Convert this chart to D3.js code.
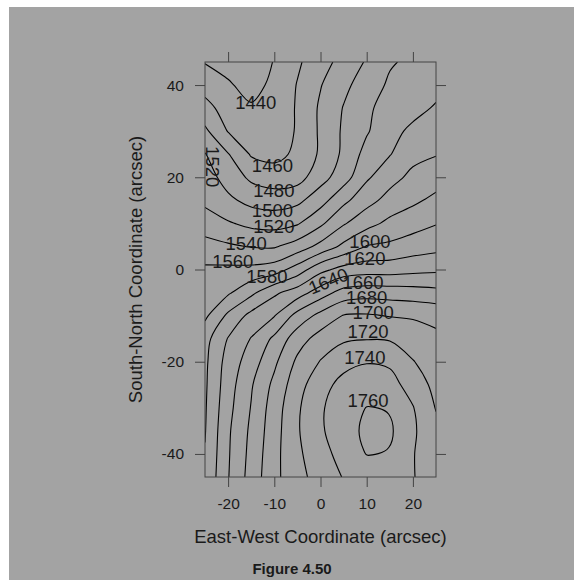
<!DOCTYPE html>
<html>
<head>
<meta charset="utf-8">
<script src="https://cdn.jsdelivr.net/npm/d3@7"></script>
<style>
  body { margin: 0; background: #fff; }
  svg text { font-family: "Liberation Sans", Arial, Helvetica, sans-serif; fill: #1a1a1a; }
</style>
</head>
<body>
<svg id="chart" width="574" height="580"></svg>
<script>
// grid of fitted velocities, east-west columns by south-north rows (north at top)
const eastWest = [-25, -20, -15, -10, -5, 0, 5, 10, 15, 20, 25];
const southNorth = [45, 40, 35, 30, 25, 20, 15, 10, 5, 0, -5, -10, -15, -20, -25, -30, -35, -40, -45];
const velocity = [
  [1439, 1434, 1428, 1441, 1457, 1472, 1487, 1502, 1518, 1524, 1528],
  [1452, 1442, 1434, 1444, 1461, 1479, 1495, 1510, 1523, 1529, 1534],
  [1467, 1451, 1442, 1446, 1462, 1483, 1501, 1516, 1529, 1534, 1542],
  [1484, 1459, 1450, 1448, 1462, 1483, 1503, 1518, 1534, 1544, 1551],
  [1501, 1481, 1458, 1454, 1464, 1483, 1504, 1527, 1539, 1554, 1559],
  [1509, 1492, 1476, 1470, 1472, 1492, 1511, 1537, 1553, 1565, 1571],
  [1516, 1504, 1494, 1490, 1495, 1512, 1535, 1553, 1567, 1576, 1585],
  [1529, 1522, 1515, 1513, 1518, 1536, 1558, 1573, 1585, 1592, 1599],
  [1548, 1543, 1539, 1538, 1549, 1566, 1585, 1601, 1604, 1610, 1614],
  [1563, 1564, 1565, 1570, 1589, 1614, 1627, 1631, 1631, 1634, 1636],
  [1570, 1577, 1595, 1616, 1630, 1650, 1668, 1672, 1671, 1669, 1666],
  [1576, 1604, 1626, 1639, 1667, 1686, 1701, 1702, 1699, 1698, 1695],
  [1593, 1621, 1641, 1664, 1691, 1708, 1717, 1719, 1718, 1710, 1704],
  [1596, 1628, 1650, 1676, 1704, 1721, 1734, 1739, 1737, 1721, 1709],
  [1597, 1631, 1658, 1685, 1712, 1733, 1746, 1750, 1747, 1732, 1714],
  [1598, 1634, 1661, 1690, 1717, 1738, 1749, 1761, 1759, 1741, 1719],
  [1599, 1637, 1664, 1692, 1718, 1737, 1753, 1766, 1765, 1743, 1725],
  [1601, 1638, 1666, 1694, 1716, 1733, 1747, 1761, 1759, 1741, 1728],
  [1603, 1639, 1668, 1695, 1713, 1729, 1741, 1750, 1748, 1741, 1730]
];
const levels = [1440, 1460, 1480, 1500, 1520, 1540, 1560, 1580, 1600, 1620, 1640, 1660, 1680, 1700, 1720, 1740, 1760];
const xTicks = [-20, -10, 0, 10, 20];
const yTicks = [-40, -20, 0, 20, 40];

// where the level numbers sit on the lines (data units, degrees)
const contourLabels = [
  { level: 1440, x: -14.0, y: 36.2, angle: 0 },
  { level: 1460, x: -10.4, y: 22.6, angle: 0 },
  { level: 1480, x: -10.1, y: 17.2, angle: 0 },
  { level: 1500, x: -10.4, y: 12.7, angle: 0 },
  { level: 1520, x: -10.1, y: 9.4, angle: 0 },
  { level: 1520, x: -23.3, y: 22.3, angle: 90 },
  { level: 1540, x: -16.1, y: 5.7, angle: 0 },
  { level: 1560, x: -19.0, y: 1.7, angle: 0 },
  { level: 1580, x: -11.6, y: -1.5, angle: 0 },
  { level: 1600, x: 10.7, y: 6.1, angle: 0 },
  { level: 1620, x: 9.6, y: 2.4, angle: 0 },
  { level: 1640, x: 1.7, y: -2.5, angle: -22 },
  { level: 1660, x: 9.2, y: -2.8, angle: 0 },
  { level: 1680, x: 10.0, y: -6.1, angle: 0 },
  { level: 1700, x: 11.4, y: -9.4, angle: 0 },
  { level: 1720, x: 10.3, y: -13.5, angle: 0 },
  { level: 1740, x: 9.6, y: -19.1, angle: 0 },
  { level: 1760, x: 10.3, y: -28.4, angle: 0 }
];

const svg = d3.select("#chart");

svg.append("rect")
    .attr("x", 9).attr("y", 7)
    .attr("width", 565).attr("height", 573)
    .attr("fill", "#a3a3a3");

const panel = { left: 205, right: 436, top: 62, bottom: 477 };

const x = d3.scaleLinear().domain([-25, 25]).range([panel.left, panel.right]);
const y = d3.scaleLinear().domain([-45, 45]).range([panel.bottom, panel.top]);

// contour grid coordinates -> data coordinates
const nx = eastWest.length, ny = southNorth.length;
const gx = d3.scaleLinear().domain([0.5, nx - 0.5]).range([eastWest[0], eastWest[nx - 1]]);
const gy = d3.scaleLinear().domain([0.5, ny - 0.5]).range([southNorth[0], southNorth[ny - 1]]);

const contours = d3.contours().size([nx, ny]).thresholds(levels)(velocity.flat());

// rings from d3.contours are closed along the grid border; keep only the inner runs
function linePieces(ring) {
  let pts = ring.slice();
  const a = pts[0], b = pts[pts.length - 1];
  if (a[0] === b[0] && a[1] === b[1]) pts = pts.slice(0, -1);
  const onBorder = p => p[0] <= 0 || p[0] >= nx || p[1] <= 0 || p[1] >= ny;
  const start = pts.findIndex(onBorder);
  if (start < 0) return [{ closed: true, pts }];
  const out = [];
  let cur = [];
  for (let k = 1; k <= pts.length; k++) {
    const p = pts[(start + k) % pts.length];
    if (onBorder(p)) {
      if (cur.length > 1) out.push({ closed: false, pts: cur });
      cur = [];
    } else {
      cur.push(p);
    }
  }
  return out;
}

const pieces = [];
contours.forEach(c => {
  c.coordinates.forEach(poly => poly.forEach(ring => {
    linePieces(ring).forEach(p => pieces.push({
      value: c.value,
      closed: p.closed,
      pts: p.pts.map(q => [gx(q[0]), gy(q[1])])
    }));
  }));
});

const openLine = d3.line()
    .x(d => x(d[0])).y(d => y(d[1]))
    .curve(d3.curveCatmullRom.alpha(0.5));
const closedLine = d3.line()
    .x(d => x(d[0])).y(d => y(d[1]))
    .curve(d3.curveBasisClosed);

svg.append("clipPath").attr("id", "panel-clip")
  .append("rect")
    .attr("x", panel.left).attr("y", panel.top)
    .attr("width", panel.right - panel.left)
    .attr("height", panel.bottom - panel.top);

const plot = svg.append("g").attr("clip-path", "url(#panel-clip)");

plot.selectAll("path.contour")
  .data(pieces)
  .enter().append("path")
    .attr("class", "contour")
    .attr("d", d => d.closed ? closedLine(d.pts) : openLine(d.pts))
    .attr("fill", "none")
    .attr("stroke", "#000")
    .attr("stroke-width", 1.1);

plot.selectAll("text.level")
  .data(contourLabels)
  .enter().append("text")
    .attr("class", "level")
    .attr("transform", d => `translate(${x(d.x)},${y(d.y)}) rotate(${d.angle})`)
    .attr("text-anchor", "middle")
    .attr("dominant-baseline", "central")
    .style("font-size", "18.5px")
    .text(d => d.level);

// panel frame
svg.append("rect")
    .attr("x", panel.left).attr("y", panel.top)
    .attr("width", panel.right - panel.left)
    .attr("height", panel.bottom - panel.top)
    .attr("fill", "none")
    .attr("stroke", "#444")
    .attr("stroke-width", 1);

function styleAxis(g) {
  g.select(".domain").remove();
  g.selectAll(".tick line").attr("stroke", "#444");
  g.selectAll(".tick text").style("font-size", "15.5px").attr("fill", "#1a1a1a");
}

svg.append("g")
    .attr("transform", `translate(0,${panel.bottom})`)
    .call(d3.axisBottom(x).tickValues(xTicks).tickSize(10).tickPadding(11).tickFormat(d => String(d)))
    .call(styleAxis);

svg.append("g")
    .attr("transform", `translate(0,${panel.top})`)
    .call(d3.axisTop(x).tickValues(xTicks).tickSize(10).tickFormat(""))
    .call(styleAxis);

svg.append("g")
    .attr("transform", `translate(${panel.left},0)`)
    .call(d3.axisLeft(y).tickValues(yTicks).tickSize(10).tickPadding(11).tickFormat(d => String(d)))
    .call(styleAxis);

svg.append("g")
    .attr("transform", `translate(${panel.right},0)`)
    .call(d3.axisRight(y).tickValues(yTicks).tickSize(10).tickFormat(""))
    .call(styleAxis);

svg.append("text")
    .attr("x", (panel.left + panel.right) / 2)
    .attr("y", 543)
    .attr("text-anchor", "middle")
    .style("font-size", "18.5px")
    .text("East-West Coordinate (arcsec)");

svg.append("text")
    .attr("transform", `translate(142,${(panel.top + panel.bottom) / 2}) rotate(-90)`)
    .attr("text-anchor", "middle")
    .style("font-size", "18.5px")
    .text("South-North Coordinate (arcsec)");

svg.append("text")
    .attr("x", 292)
    .attr("y", 574)
    .attr("text-anchor", "middle")
    .style("font-size", "15px")
    .style("font-weight", "bold")
    .text("Figure 4.50");
</script>
</body>
</html>
